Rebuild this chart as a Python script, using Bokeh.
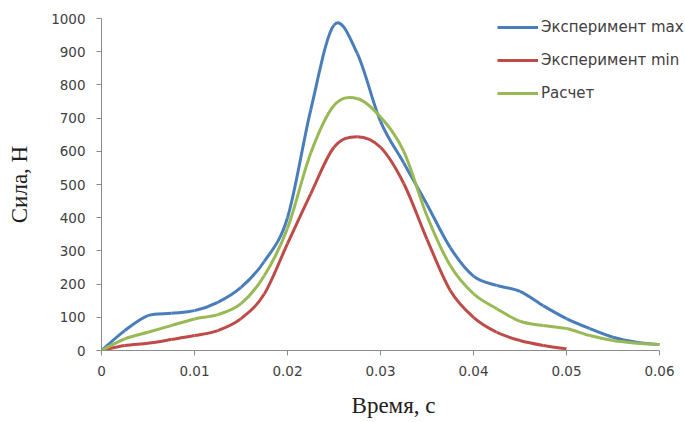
from bokeh.plotting import figure
from bokeh.models import Range1d, FixedTicker, Legend, LegendItem
from bokeh.embed import file_html
from bokeh.resources import INLINE

# ---- data ----
time_s = [0, 0.0025, 0.005, 0.0075, 0.01, 0.0125, 0.015, 0.0175, 0.02, 0.0225,
          0.025, 0.0275, 0.03, 0.0325, 0.035, 0.0375, 0.04, 0.0425, 0.045, 0.0475,
          0.05, 0.0525, 0.055, 0.0575, 0.06]
exp_max = [0, 60, 105, 112, 120, 145, 190, 268, 400, 725,
           980, 895, 690, 565, 440, 310, 224, 196, 178, 135,
           96, 66, 40, 25, 18]
exp_min_time = time_s[:21]
exp_min = [0, 15, 22, 33, 45, 60, 96, 170, 322, 472,
           612, 644, 612, 503, 335, 181, 100, 55, 30, 15, 5]
calc = [0, 35, 55, 75, 95, 108, 141, 225, 368, 595,
        738, 759, 703, 600, 405, 256, 171, 126, 88, 75,
        66, 45, 30, 22, 18]

series_names = ["Эксперимент max", "Эксперимент min", "Расчет"]
series_colors = ["#4A7EBB", "#BE4B48", "#98B954"]

x_ticks = [0, 0.01, 0.02, 0.03, 0.04, 0.05, 0.06]
x_tick_labels = ["0", "0.01", "0.02", "0.03", "0.04", "0.05", "0.06"]
y_ticks = [0, 100, 200, 300, 400, 500, 600, 700, 800, 900, 1000]

x_title = "Время, с"
y_title = "Сила, Н"


def smooth_segments(xs, ys):
    """Bezier control points (Catmull-Rom, like a spreadsheet 'smoothed line')."""
    n = len(xs)
    out = dict(x0=[], y0=[], x1=[], y1=[], cx0=[], cy0=[], cx1=[], cy1=[])
    for i in range(n - 1):
        p0 = (xs[max(i - 1, 0)], ys[max(i - 1, 0)])
        p1 = (xs[i], ys[i])
        p2 = (xs[i + 1], ys[i + 1])
        p3 = (xs[min(i + 2, n - 1)], ys[min(i + 2, n - 1)])
        out["x0"].append(p1[0]); out["y0"].append(p1[1])
        out["x1"].append(p2[0]); out["y1"].append(p2[1])
        out["cx0"].append(p1[0] + (p2[0] - p0[0]) / 6.0)
        out["cy0"].append(p1[1] + (p2[1] - p0[1]) / 6.0)
        out["cx1"].append(p2[0] - (p3[0] - p1[0]) / 6.0)
        out["cy1"].append(p2[1] - (p3[1] - p1[1]) / 6.0)
    return out


# frame spans 584 px; the axis (0..0.06) occupies the first 558 px of it,
# leaving room on the right for the legend text
FRAME_W = 584
AXIS_W = 558
x_end = x_ticks[-1] * FRAME_W / AXIS_W

p = figure(width=685, height=422, output_backend="svg", toolbar_location=None,
           x_range=Range1d(0, x_end), y_range=Range1d(0, 1000),
           min_border_left=101, min_border_right=0, min_border_top=18,
           min_border_bottom=72)
p.outline_line_color = None
p.xgrid.visible = False
p.ygrid.visible = False
p.background_fill_color = "white"
p.border_fill_color = "white"

renderers = []
for xs, ys, col in [(time_s, exp_max, series_colors[0]),
                    (exp_min_time, exp_min, series_colors[1]),
                    (time_s, calc, series_colors[2])]:
    seg = smooth_segments(xs, ys)
    r = p.bezier(x0=seg["x0"], y0=seg["y0"], x1=seg["x1"], y1=seg["y1"],
                 cx0=seg["cx0"], cy0=seg["cy0"], cx1=seg["cx1"], cy1=seg["cy1"],
                 line_color=col, line_width=3)
    renderers.append(r)

axis_color = "#8C8C8C"
label_color = "#404040"
for ax in (p.xaxis[0], p.yaxis[0]):
    ax.axis_line_color = axis_color
    ax.major_tick_line_color = axis_color
    ax.minor_tick_line_color = None
    ax.major_tick_in = 0
    ax.major_tick_out = 5
    ax.major_label_text_font = "DejaVu Sans"
    ax.major_label_text_font_size = "13.5px"
    ax.major_label_text_color = label_color
    ax.axis_label_text_font = "Liberation Serif"
    ax.axis_label_text_font_size = "23px"
    ax.axis_label_text_font_style = "normal"
    ax.axis_label_text_color = "#202020"

p.xaxis[0].ticker = FixedTicker(ticks=x_ticks)
p.xaxis[0].bounds = (x_ticks[0], x_ticks[-1])
p.xaxis[0].major_label_overrides = {t: l for t, l in zip(x_ticks, x_tick_labels)}
p.xaxis[0].major_label_standoff = 10
p.xaxis[0].axis_label = x_title
p.xaxis[0].axis_label_standoff = 14

p.yaxis[0].ticker = FixedTicker(ticks=y_ticks)
p.yaxis[0].major_label_standoff = 11
p.yaxis[0].axis_label = y_title
p.yaxis[0].axis_label_standoff = 16

legend = Legend(items=[LegendItem(label=n, renderers=[r])
                       for n, r in zip(series_names, renderers)],
                location=(396, 247), padding=0, margin=0, spacing=13,
                label_height=20, glyph_height=20, glyph_width=41,
                label_standoff=3, label_text_font="DejaVu Sans",
                label_text_font_size="15px", label_text_color=label_color,
                background_fill_alpha=0, border_line_color=None)
p.add_layout(legend, "center")

open("out.html", "w").write(file_html(p, INLINE))
